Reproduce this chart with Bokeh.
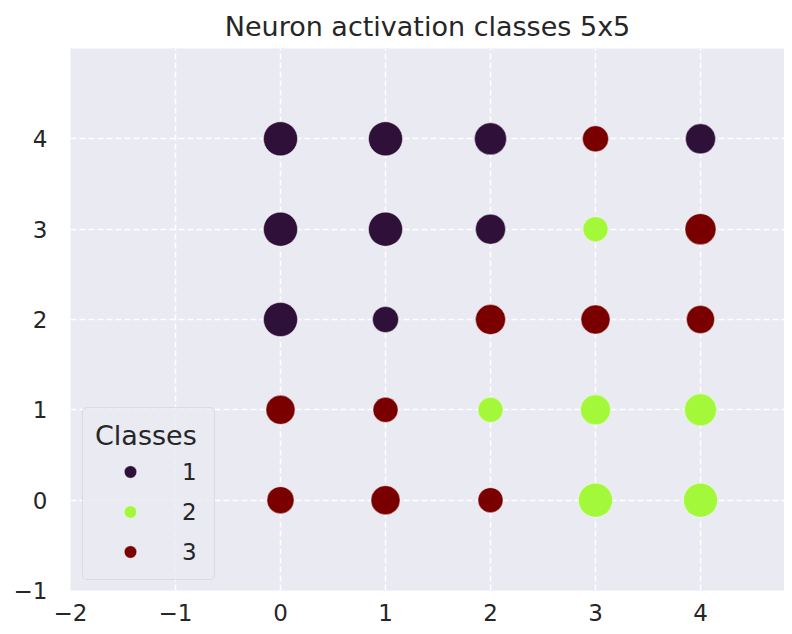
from bokeh.plotting import figure
from bokeh.models import ColumnDataSource, FixedTicker, Range1d, Legend, LegendItem
from bokeh.embed import file_html
from bokeh.resources import INLINE
import numpy as np

# Data: 5x5 neuron grid
grid_x = [0, 1, 2, 3, 4] * 5
grid_y = [0] * 5 + [1] * 5 + [2] * 5 + [3] * 5 + [4] * 5
classes = [3, 3, 3, 2, 2,
           3, 3, 2, 2, 2,
           1, 1, 3, 3, 3,
           1, 1, 1, 2, 3,
           1, 1, 1, 3, 1]
hits = [18, 26, 10, 46, 46,
        26, 10, 10, 30, 38,
        46, 14, 30, 26, 22,
        46, 46, 30, 10, 34,
        46, 46, 38, 14, 30]
class_labels = ["1", "2", "3"]
class_colors = ["#2f1038", "#a3f83a", "#7a0000"]
x_ticks = [-2, -1, 0, 1, 2, 3, 4]
y_ticks = [-1, 0, 1, 2, 3, 4]

FONT = "DejaVu Sans"
TXT = "#262626"

p = figure(frame_width=714, frame_height=542, output_backend="svg", toolbar_location=None,
           x_range=Range1d(-2, 4.8), y_range=Range1d(-1, 5),
           title="Neuron activation classes 5x5",
           min_border_left=70, min_border_right=0, min_border_top=48, min_border_bottom=34)

p.background_fill_color = "#EAEAF2"
p.border_fill_color = "white"
p.outline_line_color = None

p.title.text_font = FONT
p.title.text_font_size = "27px"
p.title.text_font_style = "normal"
p.title.text_color = TXT
p.title.align = "center"
p.title.standoff = 13

for ax in (p.xaxis[0], p.yaxis[0]):
    ax.axis_line_color = None
    ax.major_tick_line_color = None
    ax.minor_tick_line_color = None
    ax.major_label_text_font = FONT
    ax.major_label_text_font_size = "23px"
    ax.major_label_text_color = TXT
p.xaxis[0].major_label_standoff = 7
p.yaxis[0].major_label_standoff = 17
p.xaxis[0].ticker = FixedTicker(ticks=x_ticks)
p.yaxis[0].ticker = FixedTicker(ticks=y_ticks)
p.xaxis[0].major_label_overrides = {t: (str(t).replace("-", "\u2212")) for t in x_ticks}
p.yaxis[0].major_label_overrides = {t: (str(t).replace("-", "\u2212")) for t in y_ticks}

for g in (p.xgrid[0], p.ygrid[0]):
    g.grid_line_color = "white"
    g.grid_line_width = 1.5
    g.grid_line_dash = "6 3"
p.xgrid[0].ticker = FixedTicker(ticks=x_ticks)
p.ygrid[0].ticker = FixedTicker(ticks=y_ticks)

h = np.array(hits, dtype=float)
sizes = 25 + (h - h.min()) / (h.max() - h.min()) * 9

items = []
for ci, (lab, col) in enumerate(zip(class_labels, class_colors), start=1):
    idx = [i for i, c in enumerate(classes) if c == ci]
    src = ColumnDataSource(dict(x=[grid_x[i] for i in idx],
                                y=[grid_y[i] for i in idx],
                                s=[float(sizes[i]) for i in idx]))
    r = p.scatter("x", "y", size="s", source=src, fill_color=col, line_color="white",
                  line_alpha=0.4, line_width=1)
    items.append(LegendItem(label=lab, renderers=[r]))

legend = Legend(items=items, location=(12, 10), title="Classes")
legend.title_text_font = FONT
legend.title_text_font_size = "27px"
legend.title_text_font_style = "normal"
legend.title_text_color = TXT
legend.title_standoff = 5
legend.label_text_font = FONT
legend.label_text_font_size = "23px"
legend.label_text_color = TXT
legend.glyph_width = 70
legend.glyph_height = 31
legend.label_height = 31
legend.label_standoff = 17
legend.spacing = 9
legend.padding = 12
legend.margin = 0
legend.border_line_color = "#cccccc"
legend.border_line_width = 1
legend.border_radius = 5
legend.background_fill_color = "#EAEAF2"
legend.background_fill_alpha = 0.8
p.add_layout(legend, "center")

open("out.html", "w").write(file_html(p, INLINE))
